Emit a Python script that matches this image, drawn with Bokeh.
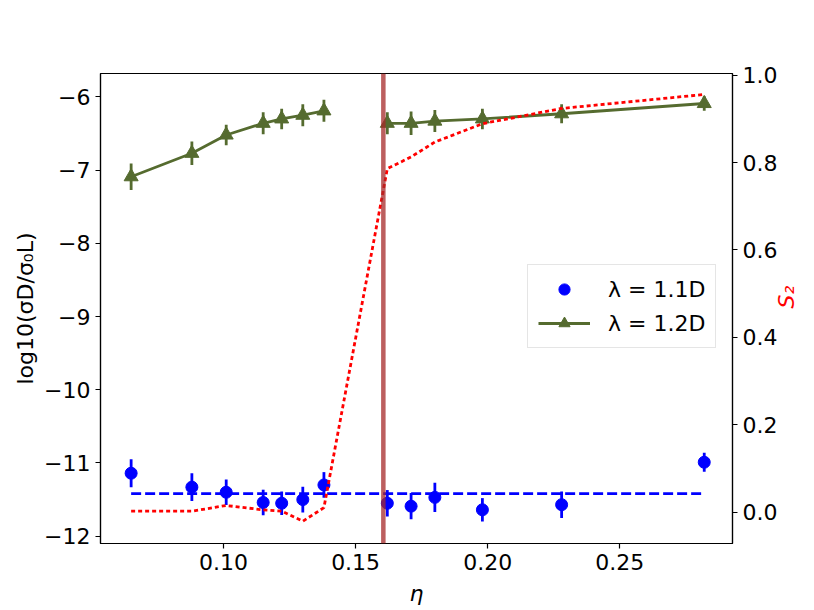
import math
from bokeh.plotting import figure
from bokeh.models import (Range1d, LinearAxis, FixedTicker, CustomJSTickFormatter,
                          Span, Legend, LegendItem)
from bokeh.embed import file_html
from bokeh.resources import INLINE

# ---------------- data ----------------
eta = [0.065, 0.088, 0.101, 0.115, 0.122, 0.130, 0.138,
       0.162, 0.171, 0.180, 0.198, 0.228, 0.282]

logsig_11 = [-11.14, -11.33, -11.40, -11.54, -11.55, -11.50, -11.30,
             -11.55, -11.59, -11.47, -11.64, -11.57, -10.99]
err_11 = [0.19, 0.19, 0.175, 0.175, 0.16, 0.175, 0.175,
          0.18, 0.18, 0.20, 0.16, 0.18, 0.13]
mean_11 = -11.42

logsig_12 = [-7.09, -6.77, -6.52, -6.36, -6.30, -6.25, -6.19,
             -6.36, -6.36, -6.33, -6.30, -6.23, -6.09]
err_12 = [0.18, 0.16, 0.14, 0.15, 0.14, 0.15, 0.15,
          0.15, 0.16, 0.15, 0.14, 0.13, 0.10]

s2 = [0.002, 0.002, 0.015, 0.005, 0.002, -0.021, 0.010,
      0.786, 0.813, 0.847, 0.889, 0.924, 0.956]

eta_transition = 0.1605
split_index = 7  # first point after the transition (green line is broken there)

x_ticks = [0.10, 0.15, 0.20, 0.25]
y_ticks = [-12, -11, -10, -9, -8, -7, -6]
s2_ticks = [0.0, 0.2, 0.4, 0.6, 0.8, 1.0]

label_11 = "λ = 1.1D"
label_12 = "λ = 1.2D"
x_label = "η"
y_label = "log10(σD/σ₀L)"
s2_label = "S₂"

# ---------------- styles ----------------
FONT = "DejaVu Sans"
FS = "22px"
BLUE = "#0000ff"
GREEN = "#556b2f"
RED = "#ff0000"
LW = 2.8

p = figure(width=814, height=610, output_backend="svg", toolbar_location=None,
           x_range=Range1d(0.0534, 0.2927), y_range=Range1d(-12.1, -5.68),
           min_border_left=100, min_border_right=81, min_border_top=73,
           min_border_bottom=67)
p.extra_y_ranges = {"s2": Range1d(-0.072, 1.004)}
p.xgrid.visible = False
p.ygrid.visible = False
p.outline_line_color = "black"
p.outline_line_width = 1.2
p.outline_line_alpha = 1.0
p.background_fill_color = "white"
p.border_fill_color = "white"

# blue: lambda = 1.1D
p.line(x=[eta[0], eta[-1]], y=[mean_11, mean_11], line_color=BLUE,
       line_width=LW, line_dash="10 4")
p.segment(x0=eta, x1=eta,
          y0=[v - e for v, e in zip(logsig_11, err_11)],
          y1=[v + e for v, e in zip(logsig_11, err_11)],
          line_color=BLUE, line_width=LW)
blue_sc = p.scatter(x=eta, y=logsig_11, marker="circle", size=12,
                    fill_color=BLUE, line_color=BLUE)

# green: lambda = 1.2D
g_line1 = p.line(x=eta[:split_index], y=logsig_12[:split_index],
                 line_color=GREEN, line_width=LW)
p.line(x=eta[split_index:], y=logsig_12[split_index:],
       line_color=GREEN, line_width=LW)
p.segment(x0=eta, x1=eta,
          y0=[v - e for v, e in zip(logsig_12, err_12)],
          y1=[v + e for v, e in zip(logsig_12, err_12)],
          line_color=GREEN, line_width=LW)
g_sc = p.scatter(x=eta, y=logsig_12, marker="triangle", size=14,
                 fill_color=GREEN, line_color=GREEN)

# vertical transition line
p.add_layout(Span(location=eta_transition, dimension="height",
                  line_color="#a52a2a", line_alpha=0.75, line_width=4.5))

# red: S2 on right axis
p.line(x=eta, y=s2, y_range_name="s2", line_color=RED, line_width=LW,
       line_dash="4 3")

# ---------------- axes ----------------
p.xaxis.ticker = FixedTicker(ticks=x_ticks)
p.xaxis.formatter = CustomJSTickFormatter(code="return tick.toFixed(2);")
p.xaxis.axis_label = x_label
p.xaxis.axis_label_text_font_style = "italic"

p.yaxis.ticker = FixedTicker(ticks=y_ticks)
p.yaxis.formatter = CustomJSTickFormatter(
    code="return (tick < 0 ? '\u2212' : '') + Math.abs(tick).toFixed(0);")
p.yaxis.axis_label = y_label
p.yaxis.axis_label_text_font_style = "normal"

ax2 = LinearAxis(y_range_name="s2", ticker=FixedTicker(ticks=s2_ticks),
                 formatter=CustomJSTickFormatter(code="return tick.toFixed(1);"),
                 axis_label=s2_label)
p.add_layout(ax2, "right")
ax2.axis_label_text_font_style = "italic"
if "axis_label_orientation" in ax2.properties():
    ax2.axis_label_orientation = math.pi / 2

for ax in [p.xaxis[0], p.yaxis[0], ax2]:
    ax.major_tick_in = 0
    ax.major_tick_out = 5
    ax.minor_tick_in = 0
    ax.minor_tick_out = 0
    ax.axis_line_width = 1.2
    ax.major_tick_line_width = 1.2
    ax.axis_line_color = "black"
    ax.major_tick_line_color = "black"
    ax.major_label_text_font = FONT
    ax.major_label_text_font_size = FS
    ax.major_label_text_color = "black"
    ax.axis_label_text_font = FONT
    ax.axis_label_text_font_size = FS
    ax.axis_label_text_color = "black"
    ax.major_label_standoff = 5
    ax.axis_label_standoff = 3
p.xaxis.axis_label_standoff = 8
ax2.axis_label_standoff = 6
ax2.axis_label_text_color = RED

# ---------------- legend ----------------
legend = Legend(items=[LegendItem(label=label_11, renderers=[blue_sc]),
                       LegendItem(label=label_12, renderers=[g_line1, g_sc])],
                location=(427, 195))
legend.label_text_font = FONT
legend.label_text_font_size = FS
legend.label_text_color = "black"
legend.glyph_width = 52
legend.glyph_height = 28
legend.label_height = 28
legend.label_standoff = 18
legend.spacing = 6
legend.padding = 10
legend.margin = 0
legend.border_line_color = "#cccccc"
legend.border_line_width = 1.2
legend.background_fill_alpha = 0.8
p.add_layout(legend)

open("out.html", "w").write(file_html(p, INLINE))
